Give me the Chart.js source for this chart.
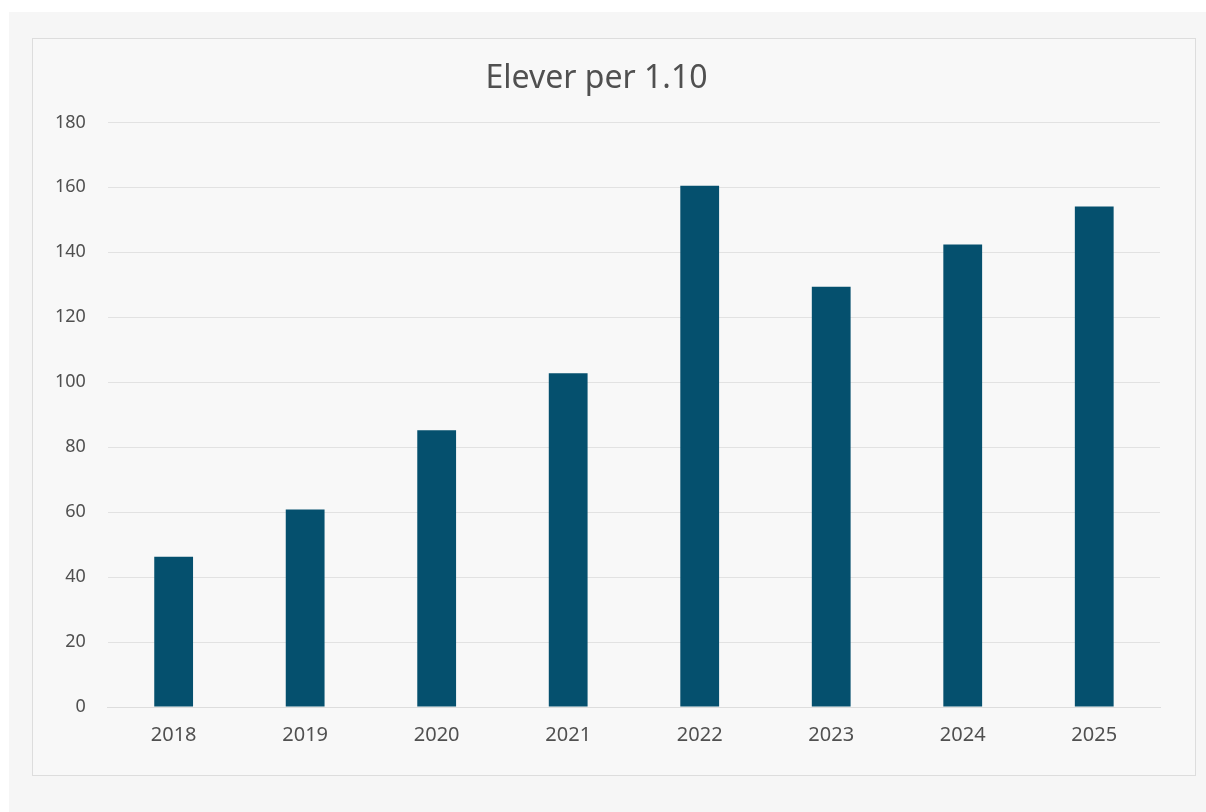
<!DOCTYPE html>
<html>
<head>
<meta charset="utf-8">
<script src="https://cdn.jsdelivr.net/npm/chart.js@4"></script>
<style>
    html, body { margin: 0; padding: 0; background: #ffffff; }
    .page { position: absolute; left: 9px; top: 12px; width: 1197px; height: 800px; background: #f6f6f6; }
    .box { position: absolute; left: 23px; top: 26px; width: 1162px; height: 736px; background: #f8f8f8; border: 1px solid #dddddd; }
</style>
</head>
<body>
<div class="page">
    <div class="box"><canvas id="chart"></canvas></div>
</div>
<script>
const years = ['2018', '2019', '2020', '2021', '2022', '2023', '2024', '2025'];
const elever = [46.3, 60.8, 85.2, 102.8, 160.5, 129.4, 142.4, 154.1];
const yTicks = [0, 20, 40, 60, 80, 100, 120, 140, 160, 180];

const font = '"Noto Sans", "Open Sans", sans-serif';
const textColor = '#505050';

new Chart(document.getElementById('chart').getContext('2d'), {
    type: 'bar',
    data: {
        labels: years,
        datasets: [{
            label: 'Elever per 1.10',
            data: elever,
            backgroundColor: '#05506e',
            borderColor: '#05506e',
            borderWidth: 0,
            barPercentage: 0.295,
            categoryPercentage: 1.0
        }]
    },
    options: {
        responsive: true,
        maintainAspectRatio: false,
        animation: false,
        layout: { padding: { left: 0, right: 35, top: 21, bottom: 12 } },
        plugins: {
            legend: { display: false },
            tooltip: { enabled: false },
            title: {
                display: true,
                text: 'Elever per 1.10',
                color: textColor,
                font: { family: font, size: 32, weight: '400' },
                padding: { top: 0, bottom: 24 }
            }
        },
        scales: {
            x: {
                grid: { display: false, drawTicks: false },
                border: { display: true, color: '#dddddd' },
                ticks: { color: textColor, font: { family: font, size: 20 }, padding: 16 }
            },
            y: {
                min: 0,
                max: 180,
                afterBuildTicks: axis => { axis.ticks = yTicks.map(v => ({ value: v })); },
                grid: { color: '#e2e2e2', drawTicks: false },
                border: { display: false },
                ticks: { color: textColor, font: { family: font, size: 18 }, padding: 22 }
            }
        }
    }
});
</script>
</body>
</html>
